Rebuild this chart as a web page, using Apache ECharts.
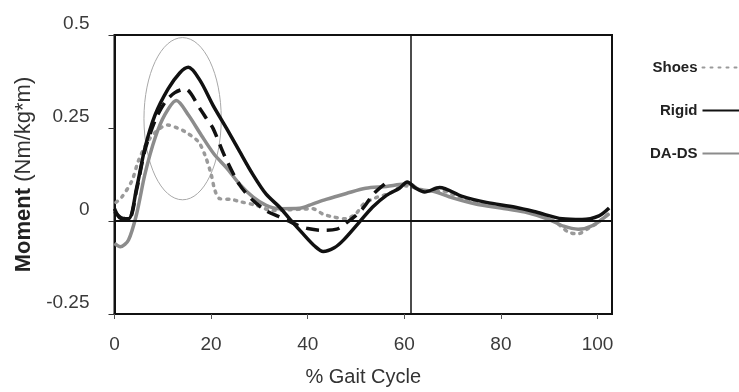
<!DOCTYPE html>
<html>
<head>
<meta charset="utf-8">
<script src="https://cdn.jsdelivr.net/npm/echarts@6/dist/echarts.min.js"></script>
<style>
  html, body { margin: 0; padding: 0; background: #fff; }
  #chart { width: 739px; height: 392px; }
</style>
</head>
<body>
<div id="chart"></div>
<script>
// values: [ % gait cycle, moment ]
const xTicks = [0, 20, 40, 60, 80, 100]
const yTicks = [-0.25, 0, 0.25, 0.5]

const shoes = [
  [0.3, 0.05], [1.5, 0.064], [3.6, 0.108], [4.9, 0.16], [6.9, 0.214], [9, 0.245], [11, 0.258],
  [13, 0.25], [14.6, 0.24], [17.3, 0.214], [18.7, 0.178], [20, 0.126], [20.8, 0.082], [21.8, 0.06],
  [24.2, 0.058], [26, 0.052], [29.4, 0.042], [32.8, 0.028], [36, 0.03], [39, 0.032], [41, 0.033],
  [43.1, 0.019], [45.2, 0.011], [47.9, 0.006], [50, 0.02], [51.6, 0.046], [54, 0.062], [57, 0.075],
  [60, 0.095], [62, 0.09], [65, 0.08], [68, 0.08], [72, 0.06], [77, 0.045], [82, 0.035], [87, 0.02],
  [91, 0.0], [94, -0.03], [96, -0.034], [98, -0.021], [100, -0.005], [102.4, 0.02]
]

const rigid = [
  [0, 0.033], [1.2, 0.008], [2.9, 0.006], [4.6, 0.09], [6.3, 0.196], [8.4, 0.285], [11.1, 0.355],
  [13.5, 0.398], [15.3, 0.413], [17.7, 0.378], [20.4, 0.311], [23.2, 0.249], [25.9, 0.187],
  [28.6, 0.126], [31.4, 0.072], [34.2, 0.037], [36.3, 0.005], [39, -0.034], [41.5, -0.068],
  [43.2, -0.082], [45.5, -0.072], [47.5, -0.05], [50.7, -0.003], [53.4, 0.037], [56.3, 0.069],
  [59, 0.088], [60.6, 0.105], [62.4, 0.088], [64.2, 0.078], [67.3, 0.09], [72, 0.066], [77, 0.05],
  [83, 0.037], [87.3, 0.024], [92.7, 0.006], [96.8, 0.004], [100.3, 0.014], [102.4, 0.035]
]

const dads = [
  [0, -0.06], [1.2, -0.069], [2.9, -0.051], [4.6, 0.02], [6.3, 0.126], [8.4, 0.223], [10.4, 0.285],
  [12.8, 0.324], [15.3, 0.285], [18, 0.23], [20.6, 0.18], [23.2, 0.143], [25.9, 0.099], [28.7, 0.064],
  [31.4, 0.042], [34.2, 0.033], [38.3, 0.034], [41.1, 0.046], [43.8, 0.058], [48, 0.074], [52, 0.088],
  [56.3, 0.093], [59, 0.098], [61, 0.1], [63, 0.085], [66, 0.08], [70, 0.062], [75, 0.045], [80, 0.035],
  [85, 0.024], [90, 0.004], [93, -0.014], [96, -0.022], [99, -0.012], [102.4, 0.02]
]

// black dashed curve (no legend entry in the figure)
const dashed = [
  [0, 0.025], [1.5, 0.008], [3, 0.006], [4.6, 0.085], [6.3, 0.19], [8.4, 0.27], [10.5, 0.32],
  [12.5, 0.345], [14.6, 0.355], [17.7, 0.302], [19, 0.276], [20.4, 0.249], [22.8, 0.175],
  [25.9, 0.097], [28.7, 0.055], [31.5, 0.027], [34, 0.012], [36, 0.0], [38, -0.012], [40, -0.02],
  [43, -0.025], [46, -0.022], [48, -0.005], [50, 0.015], [51.5, 0.035], [53.8, 0.075], [56.5, 0.105]
]

// highlighted region: [centre x, centre y, radius x, radius y]
const ellipse = [[14.1, 0.275, 8, 0.218]]
const toeOff = 61.3

const font = 'Liberation Sans, Arial, sans-serif'

const myCharts = echarts.init(document.getElementById('chart'))
myCharts.setOption({
  animation: false,
  grid: {
    left: 114.5, right: 127, top: 35, bottom: 74,
    show: true, borderColor: '#111', borderWidth: 2
  },
  legend: {
    orient: 'vertical',
    left: 645,
    top: 55,
    align: 'right',
    itemWidth: 46,
    itemHeight: 14,
    itemGap: 28,
    data: ['Shoes', 'Rigid', 'DA-DS'],
    itemStyle: { opacity: 0 },
    textStyle: { fontFamily: font, fontWeight: 'bold', fontSize: 15, color: '#222' }
  },
  xAxis: {
    type: 'value',
    min: 0,
    max: 103,
    name: '% Gait Cycle',
    nameLocation: 'middle',
    nameGap: 53,
    nameTextStyle: { fontFamily: font, fontSize: 20, color: '#333' },
    splitLine: { show: false },
    axisLine: { onZero: false, lineStyle: { color: '#111', width: 2 } },
    axisTick: { customValues: xTicks, length: 5, lineStyle: { color: '#555' } },
    axisLabel: { customValues: xTicks, margin: 21, fontFamily: font, fontSize: 19, color: '#3a3a3a' }
  },
  yAxis: {
    type: 'value',
    min: -0.25,
    max: 0.5,
    interval: 0.25,
    name: '{b|Moment} (Nm/kg*m)',
    nameLocation: 'middle',
    nameGap: 76,
    nameTextStyle: {
      fontFamily: font, fontSize: 22, color: '#333',
      rich: { b: { fontFamily: font, fontSize: 22, fontWeight: 'bold', color: '#222' } }
    },
    splitLine: { show: false },
    axisLine: { lineStyle: { color: '#111', width: 2 } },
    axisTick: { customValues: yTicks, length: 6, lineStyle: { color: '#333' } },
    axisLabel: {
      customValues: yTicks,
      margin: 25,
      verticalAlign: 'bottom',
      lineHeight: 22,
      fontFamily: font, fontSize: 19, color: '#3a3a3a',
      formatter: v => String(v)
    }
  },
  series: [
    {
      name: 'Shoes', type: 'line', data: shoes, smooth: 0.3, symbol: 'none', z: 2,
      lineStyle: { color: '#9a9a9a', width: 3.5, type: [2, 6], cap: 'round' },
      itemStyle: { color: '#9a9a9a' }
    },
    {
      name: 'Rigid', type: 'line', data: rigid, smooth: 0.3, symbol: 'none', z: 4,
      lineStyle: { color: '#111', width: 3.5 },
      itemStyle: { color: '#111' }
    },
    {
      name: 'DA-DS', type: 'line', data: dads, smooth: 0.3, symbol: 'none', z: 3,
      lineStyle: { color: '#8c8c8c', width: 3.5 },
      itemStyle: { color: '#8c8c8c' }
    },
    {
      name: 'dashed', type: 'line', data: dashed, smooth: 0.3, symbol: 'none', z: 4,
      lineStyle: { color: '#111', width: 3.5, type: [13, 8] },
      itemStyle: { color: '#111' },
      markLine: {
        silent: true, symbol: 'none', label: { show: false },
        lineStyle: { color: '#111', type: 'solid' },
        data: [
          { yAxis: 0, lineStyle: { width: 2 } },
          { xAxis: toeOff, lineStyle: { width: 1.5 } }
        ]
      }
    },
    {
      type: 'custom',
      data: ellipse,
      z: 1,
      renderItem: (params, api) => {
        const c = api.coord([api.value(0), api.value(1)])
        const rx = api.size([api.value(2), 0])[0]
        const ry = api.size([0, api.value(3)])[1]
        return {
          type: 'ellipse',
          shape: { cx: c[0], cy: c[1], rx: rx, ry: ry },
          style: { fill: 'none', stroke: '#a8a8a8', lineWidth: 1 }
        }
      }
    }
  ]
})
</script>
</body>
</html>
